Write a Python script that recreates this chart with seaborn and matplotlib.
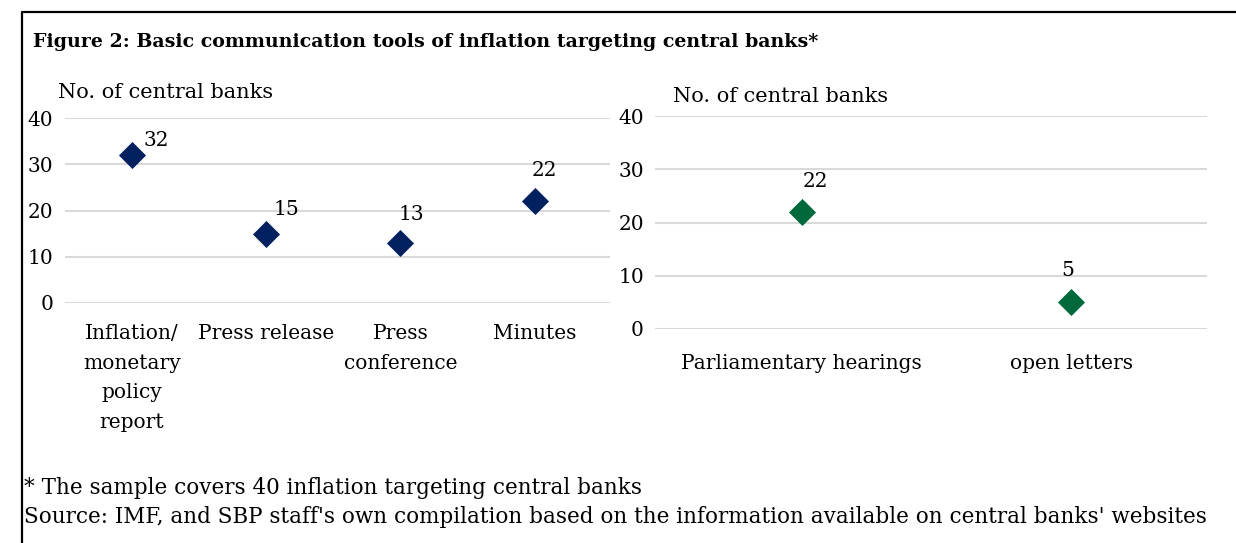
import matplotlib
matplotlib.use("Agg")
import matplotlib.pyplot as plt
from matplotlib.lines import Line2D
import seaborn as sns
import pandas as pd

# ---- data ----
left_categories = ["Inflation/\nmonetary\npolicy\nreport", "Press release", "Press\nconference", "Minutes"]
left_values = [32, 15, 13, 22]
right_categories = ["Parliamentary hearings", "open letters"]
right_values = [22, 5]
y_ticks = [0, 10, 20, 30, 40]
title = "Figure 2: Basic communication tools of inflation targeting central banks*"
y_label = "No. of central banks"
note1 = "* The sample covers 40 inflation targeting central banks"
note2 = "Source: IMF, and SBP staff's own compilation based on the information available on central banks' websites"

sns.set_theme(style="white")
plt.rcParams['font.family'] = ['DejaVu Serif']
plt.rcParams['text.color'] = 'black'
plt.rcParams['xtick.color'] = 'black'
plt.rcParams['ytick.color'] = 'black'

W, H = 1236, 543
fig = plt.figure(figsize=(W / 100, H / 100), dpi=100)

NAVY = "#002060"
GREEN = "#00693C"
GRID = "#d9d9d9"
FS = 14.5


def px_rect(x0, x1, ytop, ybot):
    return [x0 / W, (H - ybot) / H, (x1 - x0) / W, (ybot - ytop) / H]


def panel(ax, cats, vals, color, offsets, xpad, xlim):
    df = pd.DataFrame({"cat": cats, "val": vals})
    sns.scatterplot(data=df, x="cat", y="val", marker="D", s=190, color=color,
                    edgecolor=color, linewidth=0, ax=ax, zorder=3, clip_on=False)
    ax.set_xlim(*xlim)
    ax.set_ylim(0, 40)
    ax.set_yticks(y_ticks)
    ax.set_yticklabels([str(t) for t in y_ticks], fontsize=FS)
    ax.set_xticks(range(len(cats)))
    ax.set_xticklabels(cats, fontsize=FS, linespacing=1.72, va="top")
    ax.tick_params(axis="x", length=0, pad=xpad)
    ax.tick_params(axis="y", length=0, pad=8)
    ax.set_xlabel("")
    ax.set_ylabel("")
    ax.grid(axis="y", color=GRID, linewidth=1.5)
    ax.set_axisbelow(True)
    for s in ax.spines.values():
        s.set_visible(False)
    for i, v in enumerate(vals):
        ax.annotate(str(v), (i, v), xytext=offsets[i], textcoords="offset points",
                    ha="center", va="center", fontsize=FS, color="black")


ax1 = fig.add_axes(px_rect(64.5, 610, 118, 303))
panel(ax1, left_categories, left_values, NAVY,
      [(18, 10.5), (14.6, 17.5), (8.1, 20.4), (7.2, 22.3)], 15, (-0.5, 3.56))

ax2 = fig.add_axes(px_rect(655, 1207, 116, 329))
panel(ax2, right_categories, right_values, GREEN,
      [(9.6, 21.8), (-2.2, 23)], 18, (-0.545, 1.505))

fig.text(58 / W, 1 - 93 / H, y_label, fontsize=15, ha="left", va="center")
fig.text(673 / W, 1 - 97 / H, y_label, fontsize=15, ha="left", va="center")
fig.text(33 / W, 1 - 42 / H, title, fontsize=13.7, fontweight="bold", ha="left", va="center")
fig.text(24 / W, 1 - 488 / H, note1, fontsize=15.5, ha="left", va="center")
fig.text(24 / W, 1 - 517 / H, note2, fontsize=15.5, ha="left", va="center")

fig.add_artist(Line2D([22 / W, 22 / W, 1.0], [0.0, 1 - 12 / H, 1 - 12 / H],
                      transform=fig.transFigure, color="black", linewidth=1.6))

fig.savefig("out.png", dpi=100)
